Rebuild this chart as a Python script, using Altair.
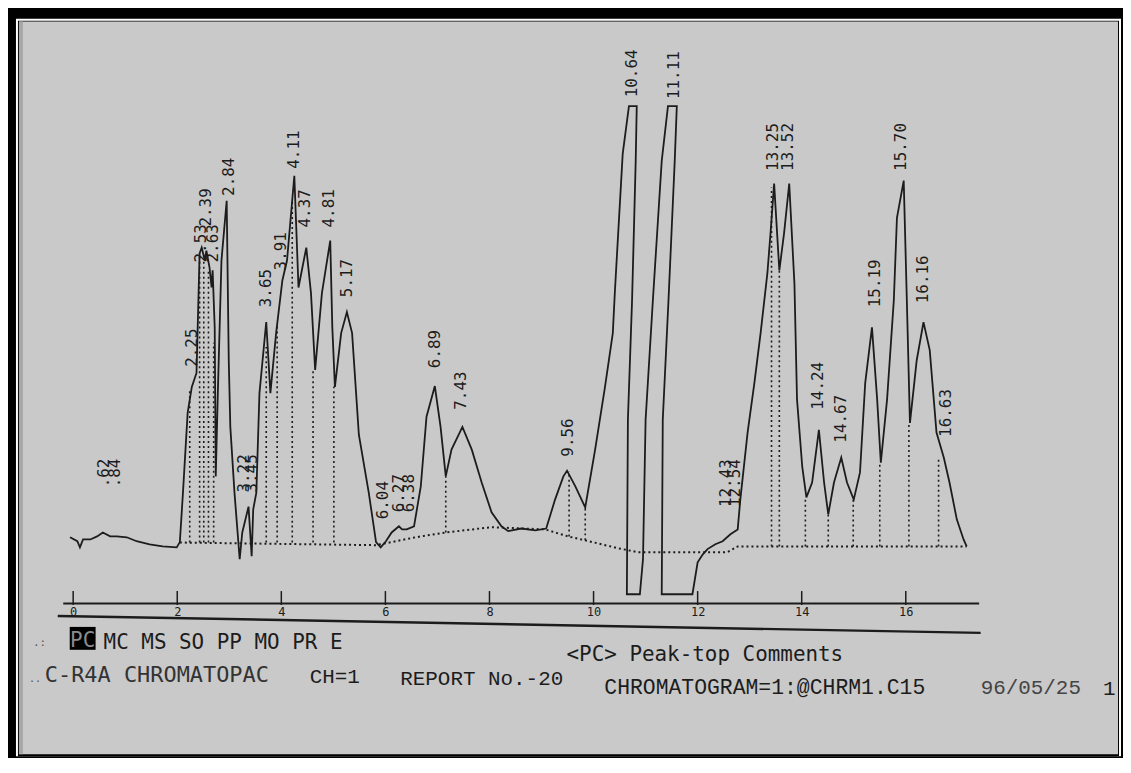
import altair as alt
import pandas as pd

# ---------------- data ----------------
# retention time (min) and detector signal (arbitrary units, 0 = baseline, 100 = full scale)
TIME = [-0.06,0.08,0.13,0.19,0.33,0.46,0.57,0.71,0.84,1.03,
        1.22,1.47,1.72,1.99,2.05,2.11,2.20,2.28,2.37,2.43,
        2.47,2.53,2.56,2.62,2.66,2.68,2.72,2.74,2.78,2.85,
        2.95,2.99,3.02,3.10,3.14,3.20,3.25,3.37,3.43,3.46,
        3.52,3.58,3.64,3.71,3.79,3.90,4.02,4.11,4.25,4.33,
        4.48,4.57,4.65,4.78,4.94,4.98,5.03,5.15,5.26,5.36,
        5.49,5.68,5.82,5.91,6.01,6.12,6.26,6.32,6.41,6.55,
        6.68,6.79,6.95,7.06,7.16,7.27,7.48,7.66,7.85,8.04,
        8.23,8.36,8.61,8.88,9.09,9.26,9.42,9.49,9.65,9.84,
        10.03,10.22,10.37,10.41,10.56,10.68,10.83,10.81,10.74,10.66,
        10.64,10.89,10.95,11.00,11.14,11.31,11.43,11.60,11.56,11.44,
        11.33,11.31,11.90,12.00,12.10,12.19,12.34,12.48,12.63,12.77,
        12.82,12.96,13.09,13.21,13.34,13.40,13.47,13.57,13.66,13.76,
        13.86,13.91,14.01,14.09,14.20,14.33,14.43,14.51,14.62,14.76,
        14.87,15.00,15.12,15.22,15.35,15.45,15.52,15.64,15.77,15.83,
        15.96,16.02,16.08,16.21,16.34,16.46,16.59,16.73,16.84,16.98,
        17.11,17.17]
SIGNAL = [1.6,0.7,-0.7,1.1,1.1,1.8,2.7,1.8,1.8,1.6,
          0.7,0.0,-0.5,-0.7,0.5,11.8,30.0,35.9,39.1,66.4,
          67.7,64.8,67.0,63.2,58.6,62.5,49.5,15.5,34.5,64.8,
          78.4,42.0,26.8,11.8,5.7,-3.4,2.7,8.6,-2.7,8.0,
          11.8,34.5,42.0,50.7,34.5,48.2,60.2,64.8,84.1,58.6,
          67.7,57.3,39.8,57.3,69.3,49.5,35.9,48.2,53.0,48.2,
          25.0,11.8,0.5,-0.7,0.7,2.7,4.1,3.4,3.4,4.1,
          13.2,29.1,36.1,26.8,15.5,21.6,26.8,21.6,14.1,7.3,
          4.1,3.0,3.6,3.2,3.6,10.2,15.5,16.8,13.2,8.4,
          21.6,35.9,48.2,57.7,89.1,100,100,87.5,55.7,28.4,
          -11.4,-11.4,-3.4,28.4,55.7,87.5,100,100,87.5,55.7,
          28.4,-11.4,-11.4,-4.1,-2.3,-1.1,0.0,0.7,2.3,3.4,
          10.2,25.5,36.8,48.2,61.8,70.9,82.3,62.5,70.9,82.3,
          59.5,33.0,17.7,10.7,14.1,26.1,14.1,6.8,14.1,19.8,
          14.1,10.2,16.4,36.8,49.5,33.0,18.6,33.0,55.7,74.5,
          83.0,55.7,27.7,42.0,50.7,44.3,25.5,19.8,14.1,5.7,
          1.1,-0.5]

# dotted integration baseline
BASE_T = [2.05, 5.82, 6.58, 7.16, 8.04, 9.07, 9.51, 9.84, 10.47, 10.85, 12.57, 12.77, 17.17]
BASE_S = [0.4, -0.2, 1.6, 2.7, 3.9, 3.4, 1.8, 0.9, -0.9, -1.8, -1.8, -0.5, -0.5]

# dotted drop lines
DROP_T   = [2.24, 2.43, 2.51, 2.60, 2.70, 3.71, 3.92, 4.21, 4.61, 5.01,
            7.16, 9.53, 9.84, 13.42, 13.57, 14.07, 14.51, 14.99, 15.50, 16.06, 16.63]
DROP_BOT = [0.4, 0.4, 0.4, 0.4, 0.4, 0.4, 0.4, 0.4, 0.4, 0.4,
            2.7, 1.8, 0.9, -0.5, -0.5, -0.5, -0.5, -0.5, -0.5, -0.5, -0.5]
DROP_TOP = [35.2, 66.4, 64.8, 62.5, 46.0, 45.0, 50.2, 78.6, 39.8, 36.0,
            15.5, 16.6, 8.4, 81.4, 62.5, 10.7, 6.8, 10.2, 18.6, 27.7, 19.8]

# peak-top comments (label, position of the start of the rotated text)
PEAK_LABEL = [".62", ".84", "2.25", "2.39", "2.53", "2.63", "2.84", "3.22", "3.45",
              "3.65", "3.91", "4.11", "4.37", "4.81", "5.17", "6.04", "6.27", "6.38",
              "6.89", "7.43", "9.56", "10.64", "11.11", "12.43", "12.54", "13.25",
              "13.52", "14.24", "14.67", "15.19", "15.70", "16.16", "16.63"]
PEAK_LT = [0.59, 0.80, 2.28, 2.55, 2.45, 2.68, 2.99, 3.29, 3.44,
           3.71, 4.00, 4.25, 4.46, 4.92, 5.26, 5.95, 6.26, 6.45,
           6.95, 7.46, 9.51, 10.74, 11.54, 12.54, 12.71, 13.44,
           13.74, 14.32, 14.75, 15.40, 15.90, 16.34, 16.78]
PEAK_LS = [13.0, 13.0, 40.5, 72.5, 64.3, 64.3, 79.5, 11.8, 11.8,
           54.1, 62.5, 85.7, 72.3, 72.3, 56.4, 5.7, 7.3, 7.3,
           40.2, 30.7, 20.0, 102.0, 101.6, 8.5, 8.5, 85.2,
           85.2, 30.7, 23.2, 54.1, 85.2, 55.0, 24.5]

TICKS = [0, 2, 4, 6, 8, 10, 12, 14, 16]

# ---------------- layout ----------------
W, H = 920, 574
PAD_L, PAD_T = 55, 22
TOTAL_W, TOTAL_H = 1120, 750
OX, OY = 8 + PAD_L, 8 + PAD_T   # page position of the plot origin

xs = alt.Scale(domain=[-0.2, 17.4], nice=False, zero=False)
ys = alt.Scale(domain=[-13.4, 117.0], nice=False, zero=False)

INK = "#1c1c1c"
AXIS = alt.Axis(values=TICKS, ticks=False, grid=False, domain=True, title=None,
                domainColor=INK, domainWidth=2, zindex=2,
                labelFont="DejaVu Sans Mono", labelFontSize=12,
                labelColor=INK, labelPadding=4, labelFlush=False)

one = pd.DataFrame({"a": [0]})


def prect(x0, y0, x1, y1, color):
    return alt.Chart(one).mark_rect(color=color).encode(
        x=alt.value(x0 - OX), x2=alt.value(x1 - OX),
        y=alt.value(y0 - OY), y2=alt.value(y1 - OY))


def ptext(txt, px, py, size, font, color=INK, align="left", weight="normal"):
    return alt.Chart(one).mark_text(
        text=txt, align=align, baseline="alphabetic", font=font,
        fontSize=size, color=color, fontWeight=weight).encode(
        x=alt.value(px - OX), y=alt.value(py - OY))


frame = [
    prect(16, 17, 1126, 758, "white"),
    prect(18, 19, 1124, 758, "black"),
    prect(19, 20, 1123, 756, "#c9c9c9"),
    prect(19, 20, 23, 756, "#a8a8a8"),
]

trace_df = pd.DataFrame({"i": range(len(TIME)), "t": TIME, "s": SIGNAL})
base_df = pd.DataFrame({"i": range(len(BASE_T)), "t": BASE_T, "s": BASE_S})
drop_df = pd.DataFrame({"t": DROP_T, "s0": DROP_BOT, "s1": DROP_TOP})
lab_df = pd.DataFrame({"t": PEAK_LT, "s": PEAK_LS, "lab": PEAK_LABEL})
tick_df = pd.DataFrame({"t": TICKS})

X = lambda f: alt.X(f, scale=xs, axis=AXIS)
Y = lambda f: alt.Y(f, scale=ys, axis=None)

baseline = alt.Chart(base_df).mark_line(
    color=INK, strokeWidth=2, strokeDash=[2, 3]).encode(
    x=X("t:Q"), y=Y("s:Q"), order=alt.Order("i:Q"))

drops = alt.Chart(drop_df).mark_rule(
    color=INK, strokeWidth=1.6, strokeDash=[2, 3]).encode(
    x=X("t:Q"), y=Y("s0:Q"), y2="s1:Q")

trace = alt.Chart(trace_df).mark_line(
    color=INK, strokeWidth=1.8).encode(
    x=X("t:Q"), y=Y("s:Q"), order=alt.Order("i:Q"))

ticks = alt.Chart(tick_df).mark_rule(color=INK, strokeWidth=1.5).encode(
    x=X("t:Q"), y=alt.value(H - 12), y2=alt.value(H + 2))

labels = alt.Chart(lab_df).mark_text(
    angle=270, align="left", baseline="middle",
    font="DejaVu Sans Mono", fontSize=16, color=INK).encode(
    x=X("t:Q"), y=Y("s:Q"), text="lab:N")

lower_line = alt.Chart(one).mark_rule(color=INK, strokeWidth=2.5).encode(
    x=alt.value(58 - OX), x2=alt.value(985 - OX),
    y=alt.value(617 - OY), y2=alt.value(634 - OY))

MONO = "DejaVu Sans Mono"
SERIF_MONO = "Liberation Mono"
footer = [
    ptext(".:", 33, 647, 11, MONO, color="#555"),
    prect(70, 628, 96, 651, "black"),
    ptext("PC", 83, 648, 21, MONO, color="#8c8c8c", align="center"),
    ptext("MC MS SO PP MO PR E", 104, 650, 21, MONO),
    ptext("<PC> Peak-top Comments", 569, 662, 21, MONO),
    ptext("..", 29, 683, 10, MONO, color="#555"),
    ptext("C-R4A CHROMATOPAC", 45, 683, 22, MONO, color="#333"),
    ptext("CH=1", 311, 684, 21, SERIF_MONO),
    ptext("REPORT No.-20", 402, 686, 21, SERIF_MONO),
    ptext("CHROMATOGRAM=1:@CHRM1.C15", 607, 695, 21.5, SERIF_MONO),
    ptext("96/05/25", 985, 695, 21, SERIF_MONO, color="#444"),
    ptext("1", 1108, 696, 21, SERIF_MONO),
]

chart = alt.layer(
    *frame, baseline, drops, trace, ticks, labels, lower_line, *footer
).properties(
    width=W, height=H,
    padding={"left": PAD_L, "top": PAD_T,
             "right": TOTAL_W - PAD_L - W, "bottom": TOTAL_H - PAD_T - H},
    autosize=alt.AutoSizeParams(type="none"),
    background="black",
).configure_view(stroke=None)

chart.save("out.html", embed_options={"renderer": "svg", "actions": False})
